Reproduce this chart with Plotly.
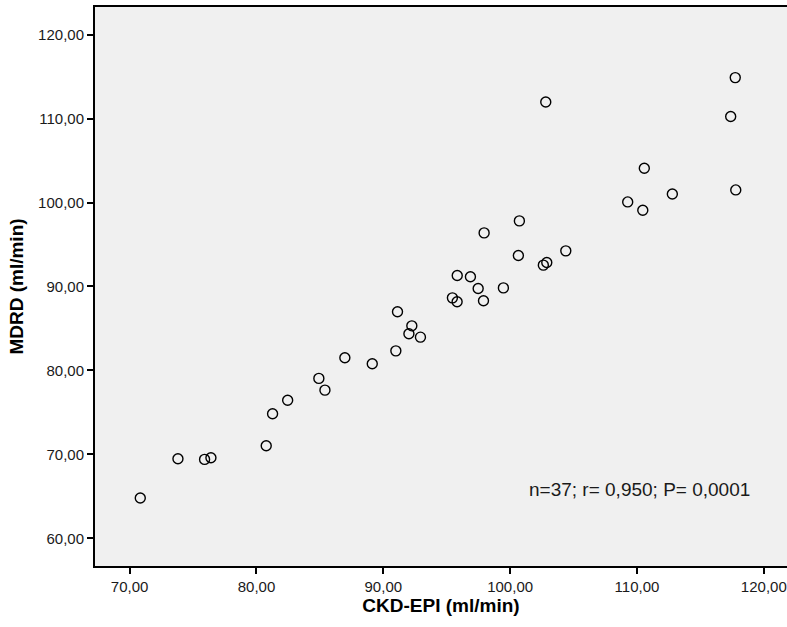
import plotly.graph_objects as go

ckd_epi = [70.84, 73.81, 75.91, 76.41, 80.77, 81.27, 82.46, 84.92, 85.40, 86.97,
           89.13, 90.99, 91.12, 92.25, 92.02, 92.93, 95.45, 95.82, 97.48, 97.90,
           96.87, 95.83, 99.47, 97.95, 100.65, 100.73, 102.62, 102.89, 104.39, 102.81,
           109.27, 110.46, 110.58, 112.79, 117.39, 117.75, 117.79]
mdrd = [64.80, 69.48, 69.40, 69.60, 71.02, 74.83, 76.45, 79.05, 77.65, 81.50,
        80.79, 82.33, 86.98, 85.31, 84.36, 83.96, 88.64, 88.17, 89.76, 88.29,
        91.15, 91.31, 89.83, 96.38, 93.69, 97.81, 92.54, 92.86, 94.24, 111.98,
        100.07, 99.08, 104.08, 101.02, 110.24, 114.88, 101.50]

x_ticks = [70, 80, 90, 100, 110, 120]
y_ticks = [60, 70, 80, 90, 100, 110, 120]
x_ticktext = ["70,00", "80,00", "90,00", "100,00", "110,00", "120,00"]
y_ticktext = ["60,00", "70,00", "80,00", "90,00", "100,00", "110,00", "120,00"]
stats_text = "n=37; r= 0,950; P= 0,0001"

FONT = "Liberation Sans, Arial"

fig = go.Figure()
fig.add_trace(go.Scatter(
    x=ckd_epi, y=mdrd, mode="markers",
    marker=dict(symbol="circle-open", size=10, color="black", line=dict(width=1.4, color="black")),
    showlegend=False, hoverinfo="x+y"
))

axis_common = dict(
    showgrid=False, zeroline=False, showline=True, linecolor="black", linewidth=2,
    ticks="outside", ticklen=6, tickwidth=2, tickcolor="black",
    tickfont=dict(family=FONT, size=15, color="#1a1a1a"),
    ticklabeloverflow="allow",
)

fig.update_xaxes(range=[67.27, 121.83], tickvals=x_ticks, ticktext=x_ticktext, mirror=True,
                 title=dict(text="<b>CKD-EPI (ml/min)</b>", font=dict(family=FONT, size=19, color="black"), standoff=5),
                 **axis_common)
fig.update_yaxes(range=[56.70, 123.29], tickvals=y_ticks, ticktext=y_ticktext,
                 title=dict(text="<b>MDRD (ml/min)</b>", font=dict(family=FONT, size=19, color="black"), standoff=9),
                 **axis_common)

fig.add_annotation(x=0.949, y=0.136, xref="paper", yref="paper", text=stats_text, showarrow=False,
                   xanchor="right", yanchor="middle",
                   font=dict(family=FONT, size=19, color="#1a1a1a"))

fig.update_layout(
    width=787, height=627,
    margin=dict(l=95, r=0, t=7, b=61),
    paper_bgcolor="white", plot_bgcolor="#f0f0f0",
)

fig.write_html("out.html")
